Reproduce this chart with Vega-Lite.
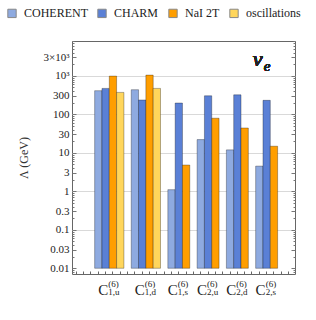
{
  "$schema": "https://vega.github.io/schema/vega-lite/v6.json",
  "width": 223,
  "height": 233,
  "autosize": {"type": "none"},
  "padding": {"left": 72, "top": 41, "right": 21, "bottom": 46},
  "background": "white",
  "config": {
    "view": {"stroke": "#666", "strokeWidth": 1},
    "font": "Liberation Serif, Times New Roman, serif",
    "text": {"font": "Liberation Serif, Times New Roman, serif"},
    "axis": {"labelFont": "Liberation Serif, Times New Roman, serif", "titleFont": "Liberation Serif, Times New Roman, serif"},
    "legend": {"labelFont": "Liberation Serif, Times New Roman, serif"}
  },
  "data": {
    "values": [
      {"group": "1,u", "series": "COHERENT", "value": 410},
      {"group": "1,u", "series": "CHARM", "value": 470},
      {"group": "1,u", "series": "NaI 2T", "value": 980},
      {"group": "1,u", "series": "oscillations", "value": 370},
      {"group": "1,d", "series": "COHERENT", "value": 435},
      {"group": "1,d", "series": "CHARM", "value": 235},
      {"group": "1,d", "series": "NaI 2T", "value": 1040},
      {"group": "1,d", "series": "oscillations", "value": 470},
      {"group": "1,s", "series": "COHERENT", "value": 1.1},
      {"group": "1,s", "series": "CHARM", "value": 196},
      {"group": "1,s", "series": "NaI 2T", "value": 4.8},
      {"group": "2,u", "series": "COHERENT", "value": 22},
      {"group": "2,u", "series": "CHARM", "value": 302},
      {"group": "2,u", "series": "NaI 2T", "value": 79},
      {"group": "2,d", "series": "COHERENT", "value": 11.9},
      {"group": "2,d", "series": "CHARM", "value": 320},
      {"group": "2,d", "series": "NaI 2T", "value": 44},
      {"group": "2,s", "series": "COHERENT", "value": 4.5},
      {"group": "2,s", "series": "CHARM", "value": 230},
      {"group": "2,s", "series": "NaI 2T", "value": 14.8}
    ]
  },
  "transform": [{"calculate": "datum.group + '|' + datum.series", "as": "key"}],
  "resolve": {"axis": {"y": "independent", "x": "independent"}},
  "layer": [
    {
      "mark": {"type": "bar", "stroke": "#000", "strokeOpacity": 0.3, "strokeWidth": 1},
      "encoding": {
        "x": {
          "field": "key", "type": "nominal",
          "scale": {
            "domain": ["s1", "s2", "s3",
              "1,u|COHERENT", "1,u|CHARM", "1,u|NaI 2T", "1,u|oscillations", "g1",
              "1,d|COHERENT", "1,d|CHARM", "1,d|NaI 2T", "1,d|oscillations", "g2",
              "1,s|COHERENT", "1,s|CHARM", "1,s|NaI 2T", "g3",
              "2,u|COHERENT", "2,u|CHARM", "2,u|NaI 2T", "g4",
              "2,d|COHERENT", "2,d|CHARM", "2,d|NaI 2T", "g5",
              "2,s|COHERENT", "2,s|CHARM", "2,s|NaI 2T", "e1", "e2"],
            "paddingInner": 0, "paddingOuter": 0.235, "align": 0.2
          },
          "axis": {"orient": "bottom", "labels": false, "title": null, "domain": false, "grid": false, "tickSize": -3, "tickColor": "#666"}
        },
        "y": {
          "field": "value", "type": "quantitative",
          "scale": {"type": "log", "domain": [0.0071, 8000], "nice": false, "zero": false},
          "axis": {
            "orient": "left",
            "title": "Λ (GeV)",
            "titleFontSize": 12, "titleFontWeight": "normal", "titleColor": "#333", "titlePadding": 12,
            "values": [0.008, 0.009, 0.01, 0.02, 0.03, 0.04, 0.05, 0.06, 0.07, 0.08, 0.09, 0.1, 0.2, 0.3, 0.4, 0.5, 0.6, 0.7, 0.8, 0.9, 1, 2, 3, 4, 5, 6, 7, 8, 9, 10, 20, 30, 40, 50, 60, 70, 80, 90, 100, 200, 300, 400, 500, 600, 700, 800, 900, 1000, 2000, 3000, 4000, 5000, 6000, 7000, 8000],
            "labelExpr": "datum.value == 1000 ? '10³' : datum.value == 3000 ? '3×10³' : indexof([0.01, 0.03, 0.1, 0.3, 1, 3, 10, 30, 100, 300], datum.value) >= 0 ? ('' + datum.value) : ''",
            "labelFontSize": 11, "labelColor": "#222", "labelPadding": 7,
            "domain": false,
            "tickColor": "#777",
            "tickSize": {"condition": {"test": "indexof([0.01, 0.03, 0.1, 0.3, 1, 3, 10, 30, 100, 300, 1000, 3000], datum.value) >= 0", "value": -4}, "value": -2},
            "grid": true, "gridColor": "#d9d9d9",
            "gridOpacity": {"condition": {"test": "indexof([0.1, 1, 10, 100, 1000], datum.value) >= 0", "value": 1}, "value": 0}
          }
        },
        "y2": {"datum": 0.01},
        "color": {
          "field": "series", "type": "nominal",
          "scale": {"domain": ["COHERENT", "CHARM", "NaI 2T", "oscillations"], "range": ["#8eaae0", "#5a80d6", "#ff9e00", "#ffd65c"]},
          "legend": {
            "orient": "none", "direction": "horizontal", "legendX": -66, "legendY": -34,
            "title": null, "symbolType": "square", "symbolSize": 70, "symbolStrokeColor": "#888", "symbolStrokeWidth": 1,
            "labelFontSize": 12, "labelColor": "#222", "labelOffset": 6, "columnPadding": 7
          }
        }
      }
    },
    {
      "transform": [{"filter": "datum.series == 'NaI 2T' && (datum.group == '1,u' || datum.group == '1,d')"}],
      "encoding": {
        "x": {"field": "key", "type": "nominal", "bandPosition": 0, "axis": null},
        "y": {"datum": 0.01, "type": "quantitative", "axis": null}
      },
      "layer": [
        {"mark": {"type": "text", "text": "C", "fontSize": 15, "align": "right", "baseline": "alphabetic", "dx": -1, "dy": 27, "color": "#222"}},
        {"mark": {"type": "text", "text": "(6)", "fontSize": 9, "align": "left", "baseline": "alphabetic", "dx": -1, "dy": 19, "color": "#222"}},
        {"mark": {"type": "text", "fontSize": 9, "align": "left", "baseline": "alphabetic", "dx": -1, "dy": 27, "color": "#222"}, "encoding": {"text": {"field": "group"}}}
      ]
    },
    {
      "transform": [{"filter": "datum.series == 'CHARM' && datum.group != '1,u' && datum.group != '1,d'"}],
      "encoding": {
        "x": {"field": "key", "type": "nominal", "bandPosition": 0.5, "axis": null},
        "y": {"datum": 0.01, "type": "quantitative", "axis": null}
      },
      "layer": [
        {"mark": {"type": "text", "text": "C", "fontSize": 15, "align": "right", "baseline": "alphabetic", "dx": -1, "dy": 27, "color": "#222"}},
        {"mark": {"type": "text", "text": "(6)", "fontSize": 9, "align": "left", "baseline": "alphabetic", "dx": -1, "dy": 19, "color": "#222"}},
        {"mark": {"type": "text", "fontSize": 9, "align": "left", "baseline": "alphabetic", "dx": -1, "dy": 27, "color": "#222"}, "encoding": {"text": {"field": "group"}}}
      ]
    },
    {
      "mark": {"type": "text", "text": "ν", "fontSize": 22, "fontStyle": "italic", "fontWeight": "normal", "align": "left", "baseline": "alphabetic", "dx": -3, "color": "#222"},
      "encoding": {
        "x": {"datum": "2,s|COHERENT", "type": "nominal", "bandPosition": 0, "axis": null},
        "y": {
          "datum": 1780, "type": "quantitative",
          "axis": {
            "orient": "right", "title": null, "labels": false, "domain": false, "grid": false,
            "values": [0.008, 0.009, 0.01, 0.02, 0.03, 0.04, 0.05, 0.06, 0.07, 0.08, 0.09, 0.1, 0.2, 0.3, 0.4, 0.5, 0.6, 0.7, 0.8, 0.9, 1, 2, 3, 4, 5, 6, 7, 8, 9, 10, 20, 30, 40, 50, 60, 70, 80, 90, 100, 200, 300, 400, 500, 600, 700, 800, 900, 1000, 2000, 3000, 4000, 5000, 6000, 7000, 8000],
            "tickColor": "#777",
            "tickSize": {"condition": {"test": "indexof([0.01, 0.03, 0.1, 0.3, 1, 3, 10, 30, 100, 300, 1000, 3000], datum.value) >= 0", "value": -4}, "value": -2}
          }
        }
      }
    },
    {
      "mark": {"type": "text", "text": "e", "fontSize": 15, "fontStyle": "italic", "fontWeight": "normal", "align": "left", "baseline": "alphabetic", "dx": 8, "dy": 5, "color": "#222"},
      "encoding": {
        "x": {"datum": "2,s|COHERENT", "type": "nominal", "bandPosition": 0, "axis": null},
        "y": {"datum": 1780, "type": "quantitative", "axis": null}
      }
    }
  ]
}
